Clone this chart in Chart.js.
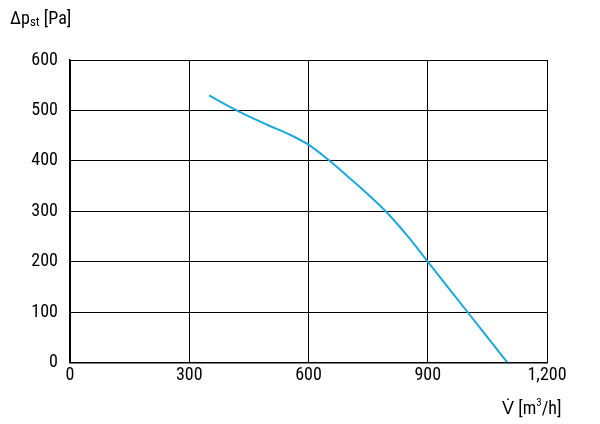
<!DOCTYPE html>
<html><head><meta charset="utf-8">
<script src="https://cdn.jsdelivr.net/npm/chart.js@4"></script>
<style>html,body{margin:0;padding:0;background:#fff}#w{width:600px;height:424px;position:relative}</style>
</head><body><div id="w"><canvas id="c" width="600" height="424"></canvas></div>
<script>
const flowX = [350,400,450,500,550,600,650,700,750,800,850,900,950,1000,1050,1100];
const pressureY = [530,508,488,470,453,432,402,368,333,295,250,200,150,100,50,0];
const xTicks = [0,300,600,900,1200];
const yTicks = [0,100,200,300,400,500,600];
const FONT = "'Liberation Sans Narrow','Roboto Condensed','Liberation Sans',Arial,sans-serif";
const labels = {
  id:'labels',
  afterDraw(ch){
    const c=ch.ctx; c.save(); c.fillStyle='#000'; c.textBaseline='alphabetic';
    c.font='18px '+FONT; c.textAlign='left';
    c.fillText('Δp',10,24); let w=c.measureText('Δp').width;
    c.font='13px '+FONT; c.fillText('st',10+w,26); let w2=c.measureText('st').width;
    c.font='18px '+FONT; c.fillText(' [Pa]',10+w+w2,24);
    c.fillText('V̇ [m',502,414); let w3=c.measureText('V̇ [m').width;
    c.font='11px '+FONT; c.fillText('3',502+w3,406); let w4=c.measureText('3').width;
    c.font='18px '+FONT; c.fillText('/h]',502+w3+w4,414);
    c.restore();
  }
};
new Chart(document.getElementById('c'),{
  type:'line',
  data:{datasets:[{data:flowX.map((x,i)=>({x,y:pressureY[i]})),borderColor:'#1aa8e0',borderWidth:2,pointRadius:0,cubicInterpolationMode:'monotone',fill:false}]},
  options:{
    responsive:false,animation:false,
    layout:{padding:{left:0,right:53,top:60,bottom:36}},
    plugins:{legend:{display:false},tooltip:{enabled:false}},
    scales:{
      x:{type:'linear',min:0,max:1200,afterBuildTicks(a){a.ticks=xTicks.map(v=>({value:v}));},
        grid:{color:'#000',lineWidth:1,drawTicks:false},border:{color:'#000',width:1.5},
        ticks:{color:'#000',font:{family:FONT,size:18},padding:2,maxRotation:0}},
      y:{min:0,max:600,afterBuildTicks(a){a.ticks=yTicks.map(v=>({value:v}));},
        afterFit(a){a.width=70;},
        grid:{color:'#000',lineWidth:1,drawTicks:false},border:{color:'#000',width:1.5},
        ticks:{color:'#000',font:{family:FONT,size:18},padding:12}}
    }
  },
  plugins:[labels]
});
</script></body></html>
